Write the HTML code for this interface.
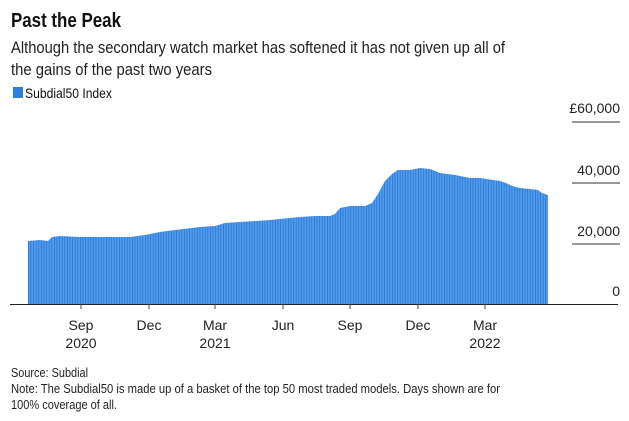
<!DOCTYPE html>
<html><head><meta charset="utf-8"><style>
html,body{margin:0;padding:0;background:#fff;}
svg{display:block;font-family:"Liberation Sans",sans-serif;}
</style></head><body>
<svg width="629" height="421" viewBox="0 0 629 421" xmlns="http://www.w3.org/2000/svg">
<defs>
<pattern id="st" x="28" y="0" width="2.6" height="10" patternUnits="userSpaceOnUse">
<rect x="0" y="0" width="2.6" height="10" fill="#4d9cf0"/>
<rect x="0" y="0" width="0.7" height="10" fill="#2c6fc4"/>
</pattern>
</defs>
<text x="11" y="27" font-size="20" font-weight="bold" fill="#111" textLength="110" lengthAdjust="spacingAndGlyphs">Past the Peak</text>
<text x="11" y="53" font-size="17" fill="#222" textLength="494" lengthAdjust="spacingAndGlyphs">Although the secondary watch market has softened it has not given up all of</text>
<text x="11" y="75" font-size="17" fill="#222" textLength="201" lengthAdjust="spacingAndGlyphs">the gains of the past two years</text>
<rect x="13" y="87" width="10" height="11" fill="#2f7fdc"/>
<text x="25" y="98" font-size="14" fill="#111" textLength="87" lengthAdjust="spacingAndGlyphs">Subdial50 Index</text>

<g font-size="14" fill="#222" text-anchor="end">
<text x="620" y="113">£60,000</text>
<text x="620" y="175">40,000</text>
<text x="620" y="236">20,000</text>
<text x="620" y="296">0</text>
</g>
<g stroke="#777" stroke-width="1.5">
<line x1="572" y1="122" x2="620" y2="122"/>
<line x1="572" y1="183" x2="620" y2="183"/>
<line x1="572" y1="244" x2="620" y2="244"/>
</g>

<polygon fill="url(#st)" points="28,304 28,241 40,240 48,241 52,237 60,236 80,237 100,237 130,237 145,235 160,232 175,230 200,227 215,226 225,223 240,222 270,220 300,217 315,216 330,216 335,214 340,208 350,206 365,206 372,203 378,194 385,181 392,174 398,170 410,170 420,168 430,169 440,173 455,175 470,178 480,178 500,181 506,183 512,186 520,188 530,189 538,190 542,193 548,195 548,304"/>

<line x1="10" y1="304.5" x2="618" y2="304.5" stroke="#222" stroke-width="1"/>
<g stroke="#444" stroke-width="1">
<line x1="81" y1="304" x2="81" y2="309"/>
<line x1="149" y1="304" x2="149" y2="309"/>
<line x1="215" y1="304" x2="215" y2="309"/>
<line x1="283" y1="304" x2="283" y2="309"/>
<line x1="350" y1="304" x2="350" y2="309"/>
<line x1="418" y1="304" x2="418" y2="309"/>
<line x1="485" y1="304" x2="485" y2="309"/>
</g>
<g font-size="14" fill="#222" text-anchor="middle">
<text x="81" y="330">Sep</text>
<text x="149" y="330">Dec</text>
<text x="215" y="330">Mar</text>
<text x="283" y="330">Jun</text>
<text x="350" y="330">Sep</text>
<text x="418" y="330">Dec</text>
<text x="485" y="330">Mar</text>
<text x="81" y="348">2020</text>
<text x="215" y="348">2021</text>
<text x="485" y="348">2022</text>
</g>
<g font-size="13" fill="#222">
<text x="11" y="377" textLength="77" lengthAdjust="spacingAndGlyphs">Source: Subdial</text>
<text x="11" y="393" textLength="489" lengthAdjust="spacingAndGlyphs">Note: The Subdial50 is made up of a basket of the top 50 most traded models. Days shown are for</text>
<text x="11" y="409" textLength="106" lengthAdjust="spacingAndGlyphs">100% coverage of all.</text>
</g>
</svg>
</body></html>
